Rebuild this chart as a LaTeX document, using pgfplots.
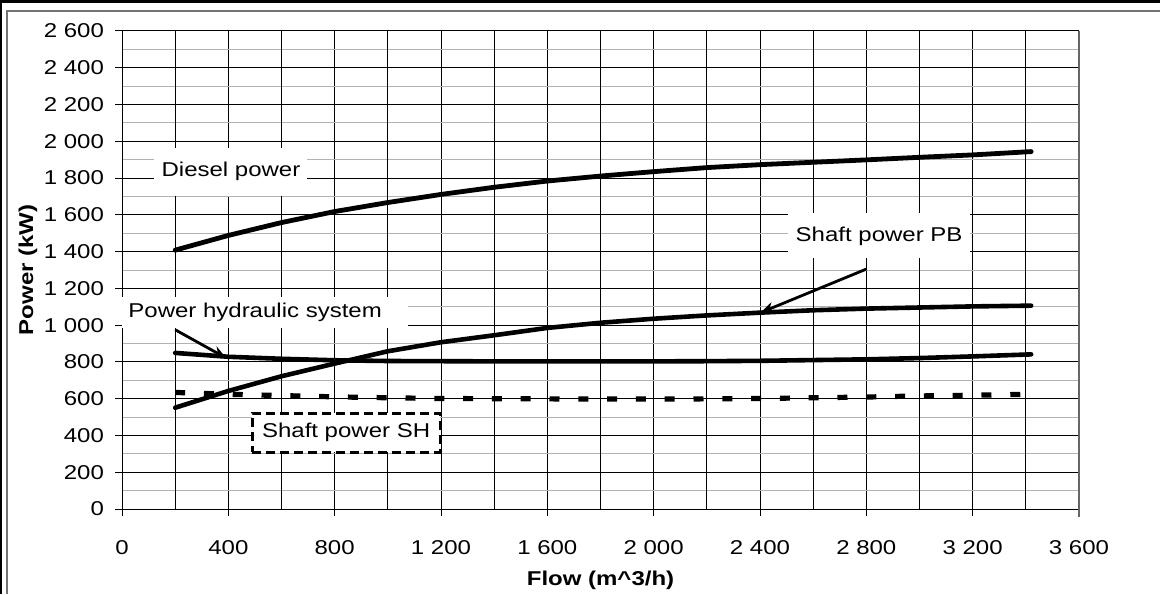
\documentclass[border=0pt]{standalone}
\usepackage{fontspec}
\setmainfont{Liberation Sans}[FakeStretch=1.2]
\usepackage{pgfplots}
\pgfplotsset{compat=1.18}
\usetikzlibrary{arrows.meta}

\pgfplotstableread{
x y
200 1408
400 1488
600 1558
800 1618
1000 1667
1200 1711
1400 1750
1600 1784
1800 1811
2000 1835
2200 1857
2400 1873
2600 1886
2800 1899
3000 1913
3200 1926
3420 1944
}\diesel

\pgfplotstableread{
x y
200 551
400 642
600 722
800 791
1000 858
1200 907
1400 945
1600 985
1800 1013
2000 1035
2200 1053
2400 1068
2600 1081
2800 1090
3000 1096
3200 1102
3420 1106
}\shaftpb

\pgfplotstableread{
x y
200 849
400 828
600 817
800 809
1000 805
1200 804
1400 803
1600 803
1800 803
2000 803
2200 804
2400 806
2600 810
2800 814
3000 821
3200 830
3420 841
}\hydraulic

\pgfplotstableread{
x y
200 634
400 624
600 617
800 610
1000 605
1200 601
1400 600
1600 599
1800 598
2000 598
2200 599
2400 601
2600 605
2800 609
3000 615
3200 619
3420 624
}\shaftsh

\begin{document}
\begin{tikzpicture}[x=1pt,y=1pt]
\useasboundingbox (0,0) rectangle (580,297);
\fill[white] (0,0) rectangle (580,297);
% outer frame
\fill[black] (0,295.5) rectangle (580,297);
\draw[black!55, line width=0.6pt] (3.5,0) -- (3.5,291.5) -- (580,291.5);
\draw[black, line width=0.8pt] (0.5,0) -- (0.5,297);
\begin{axis}[
  at={(61pt,42.5pt)}, anchor=south west,
  scale only axis, width=478.5pt, height=239pt,
  xmin=0, xmax=3600, ymin=0, ymax=2600,
  axis x line*=bottom, axis y line*=left,
  xtick={0,400,...,3600},
  extra x ticks={200,600,...,3400},
  extra x tick labels={},
  extra x tick style={grid=major, major tick length=0pt},
  ytick={0,200,...,2600},
  minor ytick={100,300,...,2500},
  xmajorgrids, ymajorgrids, yminorgrids,
  major grid style={black, line width=0.5pt},
  minor grid style={black!30, line width=0.5pt},
  minor tick length=0pt, major tick length=3.5pt, tick align=outside,
  tick style={black, line width=0.5pt},
  axis line style={black, line width=0.5pt, -},
  ticklabel style={font=\fontsize{10}{12}\selectfont},
  xticklabel style={yshift=-8.5pt},
  yticklabel style={xshift=-2pt},
  /pgf/number format/assume math mode=true,
  /pgf/number format/1000 sep={~},
  xlabel={\bfseries Flow (m\textasciicircum 3/h)},
  ylabel={\bfseries Power (kW)},
  xlabel style={at={(axis description cs:0.5,0)}, anchor=center, yshift=-35.5pt, font=\fontsize{10}{12}\selectfont},
  ylabel style={at={(axis description cs:0,0.5)}, anchor=center, yshift=47pt, font=\fontsize{10}{12}\selectfont},
  clip=false,
]
\addplot[black, line width=2.4pt, line cap=round] table[x=x,y=y] {\diesel};
\addplot[black, line width=2.3pt, line cap=round] table[x=x,y=y] {\shaftpb};
\addplot[black, line width=2.3pt, line cap=round] table[x=x,y=y] {\hydraulic};
\addplot[black, line width=2.6pt, dash pattern=on 5pt off 9.4pt] table[x=x,y=y] {\shaftsh};

\draw[black!60, line width=0.7pt] (axis cs:3600,2600) -- (axis cs:3600,0) -- ++(0pt,-4pt);

\node[fill=white, inner sep=0pt, minimum width=76.5pt, minimum height=24pt,
      font=\fontsize{10}{12}\selectfont] at (axis cs:410,1835) {Diesel power};
\node[fill=white, anchor=west, inner xsep=3pt, inner ysep=0pt, text width=137pt, align=left,
      minimum height=15.5pt, font=\fontsize{10}{12}\selectfont] at (axis cs:0,1068) {Power hydraulic system};
\node[fill=white, inner sep=0pt, minimum width=91pt, minimum height=22.5pt,
      font=\fontsize{10}{12}\selectfont] at (axis cs:2848,1485) {Shaft power PB};
\node[fill=white, draw=black, line width=1.5pt, dash pattern=on 4.5pt off 2.5pt,
      inner sep=0pt, minimum width=94pt, minimum height=19.5pt,
      font=\fontsize{10}{12}\selectfont] at (axis cs:843,416) {Shaft power SH};

\draw[black, line width=1.4pt, -{Stealth[length=7pt,width=5.5pt]}] (axis cs:200,975) -- (axis cs:392,821);
\draw[black, line width=1.4pt, -{Stealth[length=7pt,width=5.5pt]}] (axis cs:2800,1305) -- (axis cs:2402,1068);
\end{axis}
\end{tikzpicture}
\end{document}
